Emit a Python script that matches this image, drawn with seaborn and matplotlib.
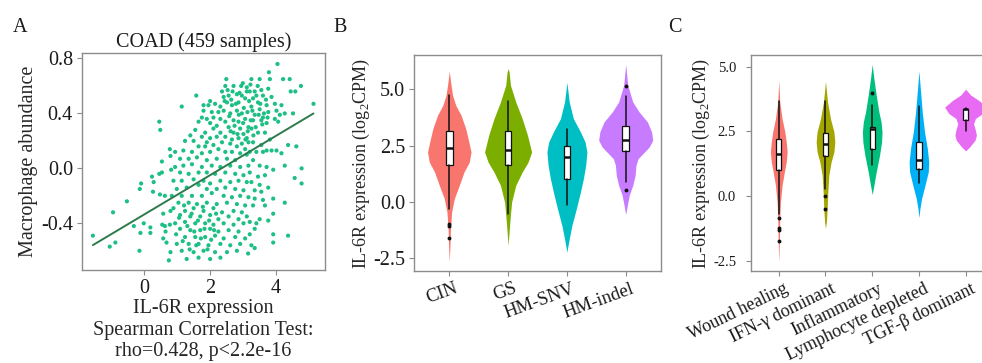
import matplotlib
matplotlib.use("Agg")
import matplotlib.pyplot as plt
from matplotlib.transforms import ScaledTranslation
import seaborn as sns

# ---------------- panel A: IL-6R expression vs macrophage abundance (COAD)
sx_left = [0.46, 0.49, 0.78, 0.80, 0.54, 0.82, 0.46, 0.54, 0.24, 0.29, -0.09, -0.13,
           0.27, 0.48, 0.63, -0.52, -0.94, 0.58, 0.80, -0.01, -0.31, 0.19, 0.55, 0.63,
           0.78, -0.11, 0.19, -1.55, 0.65, 0.58, 0.68, -0.87, -1.04, -0.14, 0.80, 0.75]
sy_left = [0.34, 0.28, 0.14, 0.09, 0.05, -0.01, -0.04, -0.03, -0.06, -0.10, -0.11, -0.15,
           -0.17, -0.19, -0.20, -0.24, -0.32, -0.33, -0.31, -0.40, -0.42, -0.43, -0.41, -0.42,
           -0.41, -0.47, -0.47, -0.49, -0.46, -0.51, -0.54, -0.54, -0.57, -0.60, -0.61, -0.67]

sx_mid = [2.49, 2.46, 2.71, 2.94, 3.11, 2.36, 2.41, 2.56, 2.81, 2.96, 3.11, 1.58, 2.00, 1.80,
          1.95, 2.15, 2.31, 2.51, 2.66, 2.86, 3.06, 1.14, 1.80, 2.05, 2.25, 2.41, 2.61, 2.81,
          2.96, 3.13, 1.75, 1.90, 2.10, 2.31, 2.46, 2.71, 2.86, 3.06, 1.65, 2.00, 2.20, 2.56,
          2.91, 3.16, 1.55, 1.85, 2.10, 2.31, 2.71, 3.01, 1.40, 1.75, 2.00, 2.20, 2.46, 2.66,
          2.86, 3.11, 1.24, 1.50, 1.90, 2.36, 2.61, 2.96, 3.16, 1.65, 1.85, 2.10, 2.25, 2.81,
          3.06, 0.94, 1.19, 1.45, 1.75, 2.00, 2.46, 2.66, 2.91, 1.09, 1.35, 1.60, 1.90, 2.20,
          2.51, 2.76, 3.11, 0.94, 1.19, 1.45, 1.75, 2.05, 2.31, 2.61, 2.91, 3.16, 1.09, 1.35,
          1.65, 1.90, 2.15, 2.46, 2.76, 3.01, 0.89, 1.14, 1.50, 1.80, 2.00, 2.31, 2.61, 2.86,
          3.11, 0.99, 1.29, 1.65, 1.90, 2.20, 2.46, 2.76, 3.01, 0.84, 1.14, 1.45, 1.75, 2.05,
          2.41, 2.66, 2.91, 3.16, 1.04, 1.35, 1.60, 1.90, 2.20, 2.51, 2.81, 3.06, 0.89, 1.24,
          1.50, 1.80, 2.10, 2.36, 2.71, 2.96, 1.09, 1.40, 1.70, 2.00, 2.25, 2.56, 2.86, 3.11,
          0.94, 1.24, 1.55, 1.85, 2.10, 2.41, 2.71, 3.01, 1.09, 1.40, 1.70, 2.00, 2.25, 2.56,
          2.86, 1.24, 1.55, 1.85, 2.15, 2.41, 2.76, 3.06, 0.99, 1.35, 1.65, 1.95, 2.31, 2.61,
          2.91, 1.14, 1.50, 1.80, 2.15, 2.51, 2.81, 1.29, 1.65, 2.00, 2.31]
sy_mid = [0.65, 0.60, 0.60, 0.60, 0.59, 0.56, 0.52, 0.53, 0.54, 0.53, 0.56, 0.53, 0.49, 0.46,
          0.46, 0.47, 0.45, 0.48, 0.46, 0.48, 0.51, 0.45, 0.42, 0.41, 0.41, 0.42, 0.40, 0.42,
          0.40, 0.41, 0.37, 0.36, 0.37, 0.36, 0.34, 0.35, 0.34, 0.36, 0.34, 0.33, 0.31, 0.30,
          0.29, 0.30, 0.28, 0.26, 0.29, 0.26, 0.26, 0.25, 0.24, 0.23, 0.22, 0.23, 0.23, 0.21,
          0.22, 0.22, 0.20, 0.20, 0.19, 0.19, 0.18, 0.18, 0.19, 0.16, 0.16, 0.17, 0.14, 0.16,
          0.14, 0.12, 0.13, 0.12, 0.11, 0.12, 0.12, 0.12, 0.11, 0.07, 0.07, 0.08, 0.06, 0.07,
          0.07, 0.06, 0.10, 0.01, 0.02, 0.03, 0.01, 0.02, 0.01, 0.02, 0.01, 0.02, -0.03, -0.04,
          -0.03, -0.03, -0.04, -0.03, -0.04, -0.05, -0.09, -0.09, -0.08, -0.09, -0.11, -0.09, -0.10, -0.09,
          -0.10, -0.15, -0.14, -0.12, -0.15, -0.15, -0.14, -0.15, -0.16, -0.20, -0.20, -0.20, -0.20, -0.18,
          -0.20, -0.21, -0.20, -0.21, -0.25, -0.25, -0.26, -0.25, -0.26, -0.25, -0.26, -0.27, -0.29, -0.31,
          -0.29, -0.31, -0.29, -0.32, -0.31, -0.32, -0.34, -0.35, -0.35, -0.34, -0.37, -0.35, -0.37, -0.35,
          -0.40, -0.39, -0.40, -0.40, -0.41, -0.40, -0.41, -0.40, -0.44, -0.45, -0.45, -0.44, -0.46, -0.45,
          -0.46, -0.50, -0.50, -0.50, -0.49, -0.51, -0.50, -0.51, -0.55, -0.55, -0.55, -0.56, -0.55, -0.56,
          -0.55, -0.60, -0.61, -0.60, -0.61, -0.61, -0.60, -0.66, -0.65, -0.66, -0.65]

# denser clumps: upper-right and lower-left of the main cloud
sx_upper = [2.53, 2.64, 2.78, 2.89, 3.02, 3.18, 3.28, 3.40, 3.52, 3.63, 2.58, 2.74, 2.87, 3.00,
            3.14, 3.23, 3.38, 3.47, 3.58, 3.69, 2.44, 2.68, 2.99, 3.22, 3.44, 3.31, 3.07, 2.83,
            3.74, 2.62]
sy_upper = [0.57, 0.50, 0.47, 0.55, 0.44, 0.49, 0.42, 0.53, 0.47, 0.40, 0.38, 0.31, 0.39, 0.33,
            0.27, 0.35, 0.30, 0.39, 0.32, 0.50, 0.49, 0.56, 0.62, 0.61, 0.60, 0.24, 0.21, 0.25,
            0.37, 0.27]
sx_lower = [0.97, 1.06, 1.17, 1.21, 1.31, 1.38, 1.44, 1.52, 1.58, 1.63, 1.72, 1.78, 1.83, 1.92,
            1.97, 2.03, 2.12, 2.18]
sy_lower = [-0.48, -0.36, -0.53, -0.27, -0.42, -0.59, -0.33, -0.46, -0.56, -0.38, -0.51, -0.28,
            -0.44, -0.59, -0.38, -0.52, -0.45, -0.33]

sx_right = [4.04, 3.25, 3.50, 3.78, 3.81, 4.21, 4.41, 4.75, 4.44, 4.58, 3.20, 3.35, 3.55, 3.76,
            3.30, 3.60, 3.86, 3.45, 3.71, 3.96, 4.16, 3.25, 3.50, 3.76, 4.01, 4.11, 5.13, 3.35,
            3.60, 3.96, 4.26, 4.51, 3.30, 3.55, 3.71, 4.06, 3.25, 3.45, 3.66, 3.81, 3.30, 3.55,
            3.71, 3.86, 4.01, 4.16, 4.36, 4.61, 3.20, 3.40, 3.60, 3.30, 3.50, 3.71, 3.91, 4.26,
            4.77, 3.20, 3.45, 3.66, 4.56, 4.77, 3.25, 3.50, 3.76, 3.35, 3.55, 3.35, 3.60, 3.91,
            3.30, 3.66, 4.26, 3.91, 3.76, 3.20, 3.40, 3.50, 3.35, 3.91, 3.20, 4.36, 3.25, 3.35,
            3.91, 3.15]
sy_right = [0.76, 0.65, 0.65, 0.70, 0.65, 0.65, 0.65, 0.60, 0.56, 0.56, 0.56, 0.56, 0.57, 0.58,
            0.51, 0.53, 0.52, 0.48, 0.46, 0.47, 0.46, 0.45, 0.43, 0.41, 0.42, 0.39, 0.47, 0.39,
            0.37, 0.36, 0.40, 0.40, 0.35, 0.35, 0.33, 0.34, 0.29, 0.26, 0.26, 0.21, 0.19, 0.17,
            0.13, 0.13, 0.13, 0.11, 0.17, 0.16, 0.12, 0.12, 0.12, 0.06, 0.02, 0.01, -0.01, 0.02,
            0.00, -0.03, -0.06, -0.05, -0.07, -0.11, -0.10, -0.12, -0.14, -0.16, -0.17, -0.22, -0.23, -0.22,
            -0.27, -0.27, -0.25, -0.33, -0.38, -0.39, -0.40, -0.37, -0.44, -0.48, -0.48, -0.49, -0.56, -0.58,
            -0.54, -0.62]

# ---------------- panel B: IL-6R by molecular subtype (violin outline + box stats)
b_labels = ["CIN", "GS", "HM-SNV", "HM-indel"]
b_colors = ["#F8766D", "#7CAE00", "#00BFC4", "#C77CFF"]
cin_y = [5.80, 5.18, 4.73, 4.29, 3.85, 3.25, 2.81, 2.22, 1.77, 1.33, 0.74, 0.15, -0.44, -1.18, -1.92, -2.66]
cin_w = [0.0, 0.03, 0.056, 0.11, 0.20, 0.28, 0.32, 0.37, 0.34, 0.25, 0.17, 0.085, 0.04, 0.02, 0.012, 0.0]
gs_y = [5.92, 5.77, 5.18, 4.44, 3.70, 2.96, 2.22, 1.77, 1.33, 0.74, 0.00, -0.74, -1.33, -1.92]
gs_w = [0.0, 0.017, 0.04, 0.13, 0.24, 0.33, 0.40, 0.34, 0.24, 0.13, 0.06, 0.034, 0.017, 0.0]
snv_y = [5.30, 4.44, 3.70, 3.11, 2.66, 2.22, 1.63, 1.03, 0.44, -0.30, -1.04, -1.63, -2.22]
snv_w = [0.0, 0.04, 0.11, 0.23, 0.31, 0.34, 0.32, 0.28, 0.23, 0.16, 0.085, 0.04, 0.0]
indel_y = [6.11, 5.18, 4.44, 3.99, 3.55, 3.11, 2.74, 2.44, 2.14, 1.92, 1.63, 1.18, 0.74, 0.30, -0.15, -0.55]
indel_w = [0.0, 0.034, 0.12, 0.23, 0.37, 0.44, 0.46, 0.40, 0.29, 0.21, 0.175, 0.16, 0.12, 0.06, 0.028, 0.0]
b_whislo = [-0.33, -0.55, -0.15, 0.89]
b_q1 = [1.63, 1.63, 1.02, 2.25]
b_med = [2.40, 2.32, 2.01, 2.74]
b_q3 = [3.15, 3.14, 2.47, 3.37]
b_whishi = [4.73, 4.48, 3.22, 4.70]
b_fliers = [[-0.96, -1.07, -1.60], [], [], [5.13, 0.52]]

# ---------------- panel C: IL-6R by immune subtype
c_labels = ["Wound healing", "IFN-γ dominant", "Inflammatory", "Lymphocyte depleted", "TGF-β dominant"]
c_colors = ["#F8766D", "#A3A500", "#00BF7D", "#00B0F6", "#E76BF3"]
wound_y = [4.47, 3.64, 2.99, 2.48, 2.09, 1.71, 1.32, 0.94, 0.42, -0.22, -0.87, -1.64, -2.54]
wound_w = [0.0, 0.021, 0.071, 0.13, 0.16, 0.18, 0.16, 0.12, 0.071, 0.036, 0.021, 0.014, 0.0]
ifn_y = [4.44, 3.64, 2.99, 2.48, 2.09, 1.71, 1.32, 0.81, 0.16, -0.48, -0.96, -1.25]
ifn_w = [0.0, 0.043, 0.107, 0.18, 0.20, 0.18, 0.12, 0.071, 0.05, 0.036, 0.021, 0.0]
infl_y = [5.09, 4.54, 3.90, 3.25, 2.87, 2.48, 2.09, 1.58, 0.94, 0.42, 0.06]
infl_w = [0.0, 0.036, 0.086, 0.143, 0.19, 0.21, 0.20, 0.157, 0.086, 0.036, 0.0]
lymph_y = [4.83, 4.02, 3.25, 2.48, 1.84, 1.32, 0.94, 0.42, -0.09, -0.48, -0.83]
lymph_w = [0.0, 0.036, 0.071, 0.12, 0.18, 0.21, 0.20, 0.13, 0.057, 0.021, 0.0]
tgf_y = [4.13, 3.90, 3.70, 3.44, 3.19, 3.00, 2.80, 2.54, 2.35, 2.16, 1.90, 1.75]
tgf_w = [0.0, 0.11, 0.28, 0.45, 0.36, 0.21, 0.17, 0.21, 0.23, 0.20, 0.086, 0.0]
c_whislo = [-0.67, 0.29, 1.19, 0.51, 2.52]
c_q1 = [1.00, 1.54, 1.84, 1.03, 2.95]
c_med = [1.64, 2.02, 2.61, 1.39, 3.35]
c_q3 = [2.20, 2.44, 2.66, 2.09, 3.38]
c_whishi = [3.68, 3.66, 3.51, 3.48, 3.39]
c_fliers = [[-0.83, -1.21, -1.32, -1.73], [0.01, -0.48], [4.0], [], []]

sns.set_style("ticks")
plt.rcParams["font.family"] = ["Liberation Serif", "DejaVu Serif"]
plt.rcParams["mathtext.fontset"] = "custom"
plt.rcParams["mathtext.rm"] = "Liberation Serif"
plt.rcParams["axes.unicode_minus"] = False
plt.rcParams["text.color"] = "#1a1a1a"

EDGE = "#8c8c8c"


def frame(ax, size, pad):
    for sp in ax.spines.values():
        sp.set_visible(True)
        sp.set_color(EDGE)
        sp.set_linewidth(1.0)
    ax.tick_params(axis="both", direction="out", length=3.5, width=0.8, color=EDGE,
                   labelsize=size, labelcolor="#1a1a1a", pad=pad)


def violins(ax, profiles, colors, whislo, q1, med, q3, whishi, fliers):
    for i, ((ys, ws), col) in enumerate(zip(profiles, colors)):
        ax.fill_betweenx(ys, [i - w for w in ws], [i + w for w in ws],
                         color=col, lw=0, zorder=1)
    stats = [dict(whislo=a, q1=b, med=c, q3=d, whishi=e, fliers=f)
             for a, b, c, d, e, f in zip(whislo, q1, med, q3, whishi, fliers)]
    ax.bxp(stats, positions=range(len(stats)), widths=0.11, showcaps=False,
           patch_artist=True, manage_ticks=False, zorder=3,
           boxprops=dict(facecolor="white", edgecolor="#111111", lw=0.9),
           medianprops=dict(color="#111111", lw=1.8),
           whiskerprops=dict(color="#111111", lw=1.1),
           flierprops=dict(marker="o", ms=1.8, mfc="#111111", mec="#111111"))


def shift_xlabels(ax, fig, dx_px):
    off = ScaledTranslation(dx_px / fig.dpi, 0, fig.dpi_scale_trans)
    for lab in ax.get_xticklabels():
        lab.set_transform(lab.get_transform() + off)


fig = plt.figure(figsize=(9.82, 3.63), dpi=100)

# panel A
axA = fig.add_axes([0.0835, 0.2562, 0.2475, 0.5978])
sx = sx_left + sx_mid + sx_upper + sx_lower + sx_right
sy = sy_left + sy_mid + sy_upper + sy_lower + sy_right
sns.scatterplot(x=sx, y=sy, s=9, color="#1DBF85", edgecolor="none", linewidth=0, ax=axA, zorder=2)
sns.regplot(x=sx, y=sy, scatter=False, ci=None, color="#2E7A4C",
            line_kws=dict(lw=1.4), ax=axA)
axA.set_xlim(-1.88, 5.48)
axA.set_ylim(-0.74, 0.84)
axA.set_xticks([0, 2, 4])
axA.set_yticks([-0.4, 0.0, 0.4, 0.8])
axA.set_yticklabels(["-0.4", "0.0", "0.4", "0.8"])
frame(axA, 14.5, 3)
axA.set_title("COAD (459 samples)", fontsize=14.5, pad=4)
axA.set_xlabel("IL-6R expression\nSpearman Correlation Test:\nrho=0.428, p<2.2e-16",
               fontsize=14.5, linespacing=1.15, labelpad=1)
axA.set_ylabel("Macrophage abundance", fontsize=14.5, labelpad=2)

# panel B
axB = fig.add_axes([0.4216, 0.2534, 0.2515, 0.595])
violins(axB, [(cin_y, cin_w), (gs_y, gs_w), (snv_y, snv_w), (indel_y, indel_w)],
        b_colors, b_whislo, b_q1, b_med, b_q3, b_whishi, b_fliers)
axB.set_xlim(-0.6, 3.6)
axB.set_ylim(-3.06, 6.52)
axB.set_yticks([-2.5, 0.0, 2.5, 5.0])
axB.set_yticklabels(["-2.5", "0.0", "2.5", "5.0"])
axB.set_xticks(range(len(b_labels)))
axB.set_xticklabels(b_labels, rotation=20, ha="right", va="top", rotation_mode="anchor")
frame(axB, 14.5, 3)
axB.tick_params(axis="x", labelsize=13.5)
shift_xlabels(axB, fig, 5)
axB.set_ylabel(r"IL-6R expression (log$_2$CPM)", fontsize=13, labelpad=0.5)

# panel C
axC = fig.add_axes([0.7645, 0.2534, 0.2474, 0.595])
violins(axC, [(wound_y, wound_w), (ifn_y, ifn_w), (infl_y, infl_w), (lymph_y, lymph_w), (tgf_y, tgf_w)],
        c_colors, c_whislo, c_q1, c_med, c_q3, c_whishi, c_fliers)
axC.set_xlim(-0.6, 4.6)
axC.set_ylim(-2.89, 5.45)
axC.set_yticks([-2.5, 0.0, 2.5, 5.0])
axC.set_yticklabels(["-2.5", "0.0", "2.5", "5.0"])
axC.set_xticks(range(len(c_labels)))
axC.set_xticklabels(c_labels, rotation=26, ha="right", va="top", rotation_mode="anchor")
frame(axC, 10.5, 7)
axC.tick_params(axis="x", labelsize=13, pad=3)
shift_xlabels(axC, fig, 5)
axC.set_ylabel(r"IL-6R expression (log$_2$CPM)", fontsize=13, labelpad=1)

for letter, x in [("A", 0.020), ("B", 0.346), ("C", 0.687)]:
    fig.text(x, 0.925, letter, fontsize=14.5, ha="center", va="center")

fig.savefig("out.png", dpi=100)
